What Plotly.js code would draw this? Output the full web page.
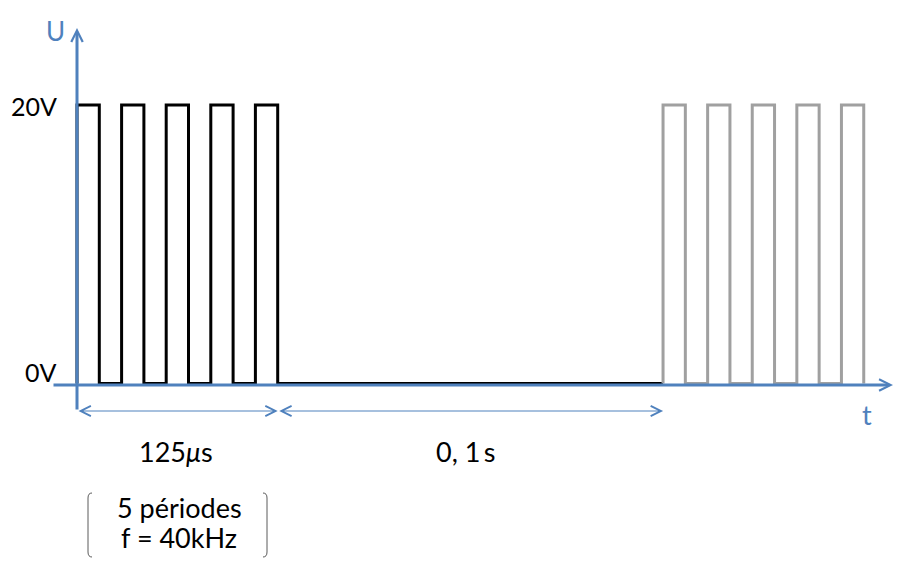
<!DOCTYPE html>
<html>
<head>
<meta charset="utf-8">
<script src="https://cdn.plot.ly/plotly-3.0.1.min.js"></script>
<style>
  html, body { margin: 0; padding: 0; background: #ffffff; }
  #chart { width: 910px; height: 573px; }
</style>
</head>
<body>
<div id="chart"></div>
<script>
// ---- Data (schematic time in half-periods, voltage in V) ----
const burst1Time = [0, 0, 1, 2, 3, 4, 5, 6, 7, 8, 9, 26.28];
const burst1Volt = [0, 20, 0, 20, 0, 20, 0, 20, 0, 20, 0, 0];
const burst2Time = [26.28, 26.28, 27.28, 28.28, 29.28, 30.28, 31.28, 32.28, 33.28, 34.28, 35.28];
const burst2Volt = [0, 20, 0, 20, 0, 20, 0, 20, 0, 20, 0];
const levelLabels = ['20V', '0V'];
const levelValues = [20, 0];
const spanLabels = ['125<i>μ</i>s', '0, 1\u2009s'];
const spanStart = [0, 9];
const spanEnd = [9, 26.28];
const noteLines = ['5 périodes', 'f = 40kHz'];

// ---- pixel <-> data helpers (for decorations only) ----
const W = 910, H = 573;
const X0 = 77, SX = 22.3;      // px of t=0, px per unit
const Y0 = 383.5, SY = 13.925; // px of 0V, px per volt
const X = px => (px - X0) / SX;
const Y = py => (Y0 - py) / SY;

const blue = '#4f81bd';
const font = 'Lato, Carlito, "Open Sans", sans-serif';

const traces = [
  { x: burst1Time, y: burst1Volt, mode: 'lines', line: { shape: 'hv', color: '#000000', width: 3 }, hoverinfo: 'skip' },
  { x: burst2Time, y: burst2Volt, mode: 'lines', line: { shape: 'hv', color: '#a0a0a0', width: 3 }, hoverinfo: 'skip' }
];

const ann = [];
// axes arrows
ann.push({ x: X(77), y: Y(28), ax: X(77), ay: Y(411), axref: 'x', ayref: 'y', xref: 'x', yref: 'y',
  text: '', showarrow: true, arrowhead: 5, arrowsize: 0.75, arrowwidth: 3, arrowcolor: blue, standoff: 0 });
ann.push({ x: X(893), y: Y(385), ax: X(52), ay: Y(385), axref: 'x', ayref: 'y', xref: 'x', yref: 'y',
  text: '', showarrow: true, arrowhead: 5, arrowsize: 0.75, arrowwidth: 3, arrowcolor: blue, standoff: 0 });
// dimension lines
const spanLabelShift = [-0.05, -0.2];
for (let i = 0; i < spanStart.length; i++) {
  ann.push({ x: spanEnd[i], y: Y(411), ax: spanStart[i], ay: Y(411), axref: 'x', ayref: 'y', xref: 'x', yref: 'y',
    text: '', showarrow: true, arrowside: 'end+start', arrowhead: 5, startarrowhead: 5,
    arrowsize: 2, startarrowsize: 2, arrowwidth: 1, arrowcolor: blue, standoff: 0, startstandoff: 0 });
  ann.push({ x: (spanStart[i] + spanEnd[i]) / 2 + spanLabelShift[i], y: Y(451), xref: 'x', yref: 'y',
    text: spanLabels[i], showarrow: false, font: { family: font, size: 27, color: '#000000' } });
}
// level labels
for (let i = 0; i < levelLabels.length; i++) {
  ann.push({ x: X(59), y: levelValues[i] === 20 ? Y(106) : Y(372), xref: 'x', yref: 'y', xanchor: 'right',
    text: levelLabels[i], showarrow: false, font: { family: font, size: 25, color: '#000000' } });
}
// axis names
ann.push({ x: X(55), y: Y(31), xref: 'x', yref: 'y', text: 'U', showarrow: false, font: { family: font, size: 26, color: blue } });
ann.push({ x: X(867), y: Y(414), xref: 'x', yref: 'y', text: 't', showarrow: false, font: { family: font, size: 27, color: blue } });
// note
ann.push({ x: X(179), y: Y(507), xref: 'x', yref: 'y', text: noteLines[0], showarrow: false, font: { family: font, size: 27, color: '#000000' } });
ann.push({ x: X(179), y: Y(537), xref: 'x', yref: 'y', text: noteLines[1], showarrow: false, font: { family: font, size: 27, color: '#000000' } });

const P = (px, py) => X(px) + ',' + Y(py);
const shapes = [
  { type: 'path', xref: 'x', yref: 'y', line: { color: '#5a5a5a', width: 1 },
    path: 'M' + P(92, 493) + ' Q' + P(88, 493) + ' ' + P(88, 498) + ' L' + P(88, 552) + ' Q' + P(88, 557) + ' ' + P(92, 557) },
  { type: 'path', xref: 'x', yref: 'y', line: { color: '#5a5a5a', width: 1 },
    path: 'M' + P(263, 493) + ' Q' + P(267, 493) + ' ' + P(267, 498) + ' L' + P(267, 552) + ' Q' + P(267, 557) + ' ' + P(263, 557) }
];

const layout = {
  width: W, height: H, autosize: false,
  margin: { l: 0, r: 0, t: 0, b: 0, pad: 0 },
  paper_bgcolor: '#ffffff', plot_bgcolor: '#ffffff',
  showlegend: false,
  xaxis: { range: [X(0), X(W)], visible: false, fixedrange: true },
  yaxis: { range: [Y(H), Y(0)], visible: false, fixedrange: true },
  annotations: ann,
  shapes: shapes
};

Plotly.newPlot('chart', traces, layout, { staticPlot: true, displayModeBar: false });
</script>
</body>
</html>
